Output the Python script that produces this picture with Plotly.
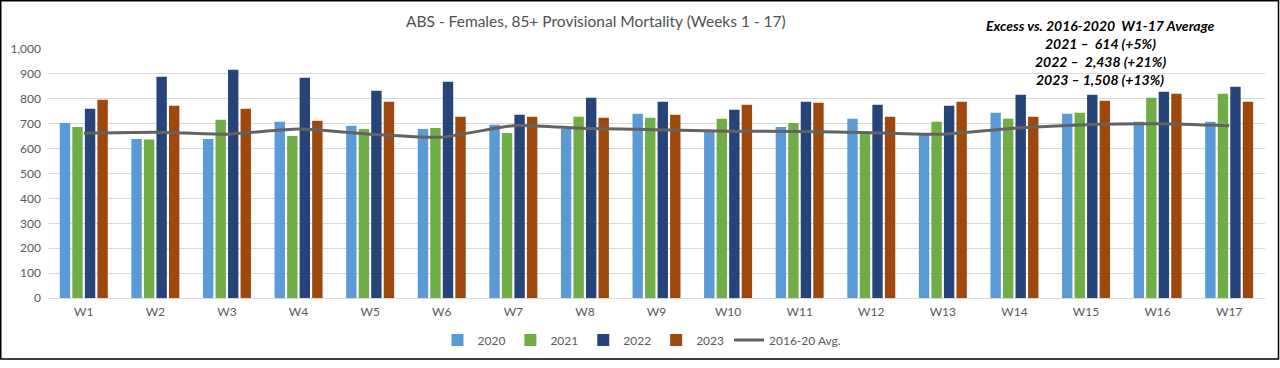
import plotly.graph_objects as go

weeks = [f"W{i}" for i in range(1, 18)]
y2020 = [703, 639, 639, 708, 692, 679, 696, 681, 740, 676, 687, 720, 659, 744, 740, 708, 708]
y2021 = [687, 637, 716, 651, 679, 683, 663, 728, 724, 720, 703, 668, 708, 720, 744, 804, 820]
y2022 = [760, 889, 917, 885, 832, 868, 736, 804, 788, 756, 788, 776, 772, 816, 816, 828, 848]
y2023 = [796, 772, 760, 712, 788, 728, 728, 724, 736, 776, 784, 728, 788, 728, 792, 820, 788]
avg_16_20 = [662, 666, 658, 679, 658, 646, 692, 681, 676, 670, 669, 664, 658, 682, 696, 700, 692]

series = [("2020", y2020, "#5B9BD5"), ("2021", y2021, "#70AD47"),
          ("2022", y2022, "#264478"), ("2023", y2023, "#9E480E")]

title_text = "ABS - Females, 85+ Provisional Mortality (Weeks 1 - 17)"
note_lines = ["Excess vs. 2016-2020  W1-17 Average",
              "2021 \u2013  614 (+5%)",
              "2022 \u2013  2,438 (+21%)",
              "2023 \u2013 1,508 (+13%)"]

FONT = "Lato, 'Open Sans', sans-serif"
GRAY = "#595959"

fig = go.Figure()
for name, vals, col in series:
    fig.add_trace(go.Bar(x=weeks, y=vals, name=name, marker_color=col,
                         marker_line_width=0))
fig.add_trace(go.Scatter(x=weeks, y=avg_16_20, name="2016-20 Avg.", mode="lines",
                         line=dict(color="#636363", width=3, shape="spline", smoothing=0.6)))

W, H = 1280, 368
L, R, T, B = 48, 15, 49, 70
pw, ph = W - L - R, H - T - B

def px(x):
    return (x - L) / pw

def py(y):
    return (H - B - y) / ph

fig.update_layout(
    width=W, height=H,
    margin=dict(l=L, r=R, t=T, b=B, autoexpand=False),
    paper_bgcolor="white", plot_bgcolor="white",
    barmode="group", bargap=0.30, bargroupgap=0.17,
    font=dict(family=FONT, color=GRAY, size=12),
    showlegend=True,
    legend=dict(orientation="h", x=px(642), xanchor="center", y=py(340), yanchor="middle",
                font=dict(size=12, color=GRAY), traceorder="normal",
                itemwidth=30, bgcolor="rgba(0,0,0,0)", tracegroupgap=0),
    xaxis=dict(showgrid=False, showline=True, linecolor="#D9D9D9", linewidth=1,
               ticks="", tickfont=dict(size=12, color=GRAY), ticklabelstandoff=3),
    yaxis=dict(range=[0, 1000], dtick=100, tickformat=",d", showgrid=True,
               gridcolor="#D9D9D9", gridwidth=1, zeroline=False, showline=False,
               ticks="", tickfont=dict(size=12, color=GRAY), ticklabelstandoff=6),
)

fig.add_annotation(x=px(596), y=py(21), xref="paper", yref="paper",
                   text=title_text, showarrow=False, xanchor="center", yanchor="middle",
                   font=dict(family=FONT, size=15.5, color="#505050"))

for i, line in enumerate(note_lines):
    fig.add_annotation(x=px(1100), y=py(26 + 17.7 * i), xref="paper", yref="paper",
                       text=f"<b><i>{line}</i></b>", showarrow=False,
                       xanchor="center", yanchor="middle",
                       font=dict(family=FONT, size=14, color="black"))

fig.add_shape(type="rect", xref="paper", yref="paper",
              x0=px(0.75), x1=px(1278.5), y0=py(359), y1=py(0.75),
              line=dict(color="black", width=1.5), fillcolor="rgba(0,0,0,0)", layer="above")

fig.write_html("out.html", config={"displayModeBar": False},
               post_script="document.body.style.margin='0';document.body.style.overflow='hidden';")
